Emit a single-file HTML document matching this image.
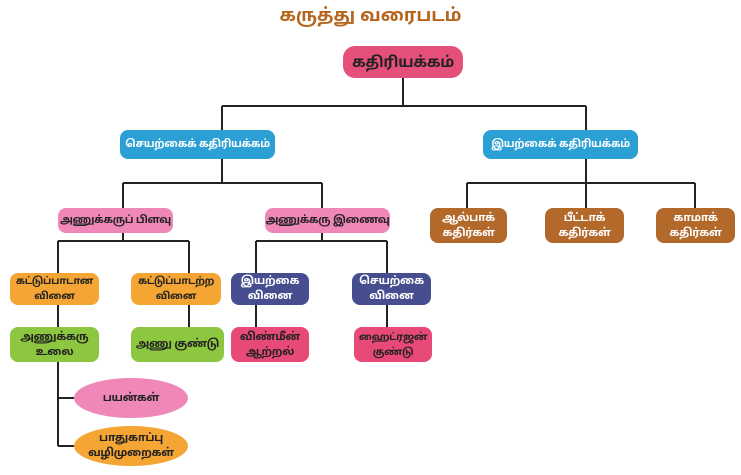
<!DOCTYPE html>
<html><head><meta charset="utf-8"><style>
body{margin:0;width:741px;height:475px;background:#fff;position:relative;overflow:hidden;font-family:"Liberation Sans","Noto Sans Tamil","Latha",sans-serif;}
.b{position:absolute;display:flex;align-items:center;justify-content:center;text-align:center;border-radius:8px;font-size:11px;font-weight:bold;line-height:15px;color:#222;white-space:nowrap;letter-spacing:-0.3px}
.w{color:#fff}
svg{position:absolute;left:0;top:0}
</style></head><body>
<svg width="741" height="475"><g stroke="#222" stroke-width="2" fill="none">
<path d="M403 78V106M222 106H586M222 106V130M586 106V130"/>
<path d="M222 159V183M123 183H322M123 183V208M322 183V208"/>
<path d="M586 159V183M467 183H695M467 183V208M586 183V208M695 183V208"/>
<path d="M123 233V241M58 241H189M58 241V273M189 241V273"/>
<path d="M322 233V241M256 241H387M256 241V273M387 241V273"/>
<path d="M58 305V327M189 305V327M256 305V327M387 305V327"/>
<path d="M58 362V446M58 398H74M58 446H74"/>
</g></svg>
<div style="position:absolute;left:0;width:741px;top:5px;text-align:center;font-size:18px;font-weight:bold;color:#b5651d">கருத்து வரைபடம்</div>
<div class="b" style="left:343px;top:46px;width:120px;height:32px;background:#e5507a;border-radius:12px;font-size:15px">கதிரியக்கம்</div>
<div class="b w" style="left:120px;top:130px;width:155px;height:29px;background:#2c9fd5;font-size:10.5px">செயற்கைக் கதிரியக்கம்</div>
<div class="b w" style="left:483px;top:130px;width:155px;height:29px;background:#2c9fd5;font-size:10.5px">இயற்கைக் கதிரியக்கம்</div>
<div class="b" style="left:58px;top:208px;width:115px;height:25px;background:#ef87b8;font-size:10.5px">அணுக்கருப் பிளவு</div>
<div class="b" style="left:265px;top:208px;width:125px;height:25px;background:#ef87b8;font-size:10.5px">அணுக்கரு இணைவு</div>
<div class="b w" style="left:430px;top:208px;width:77px;height:35px;background:#b2692a">ஆல்பாக்<br>கதிர்கள்</div>
<div class="b w" style="left:545px;top:208px;width:79px;height:35px;background:#b2692a">பீட்டாக்<br>கதிர்கள்</div>
<div class="b w" style="left:656px;top:208px;width:79px;height:35px;background:#b2692a">காமாக்<br>கதிர்கள்</div>
<div class="b" style="left:10px;top:273px;width:89px;height:32px;background:#f4a533;font-size:10px">கட்டுப்பாடான<br>வினை</div>
<div class="b" style="left:131px;top:273px;width:90px;height:32px;background:#f4a533;font-size:10px">கட்டுப்பாடற்ற<br>வினை</div>
<div class="b w" style="left:231px;top:273px;width:78px;height:32px;background:#464e8f">இயற்கை<br>வினை</div>
<div class="b w" style="left:352px;top:273px;width:79px;height:32px;background:#464e8f">செயற்கை<br>வினை</div>
<div class="b" style="left:10px;top:327px;width:89px;height:35px;background:#8dc63f">அணுக்கரு<br>உலை</div>
<div class="b" style="left:131px;top:327px;width:93px;height:35px;background:#8dc63f">அணு குண்டு</div>
<div class="b" style="left:231px;top:327px;width:78px;height:35px;background:#e84a78">விண்மீன்<br>ஆற்றல்</div>
<div class="b" style="left:354px;top:327px;width:78px;height:35px;background:#e84a78;font-size:10px">ஹைட்ரஜன்<br>குண்டு</div>
<div class="b" style="left:74px;top:378px;width:114px;height:40px;background:#ef87b8;border-radius:50%">பயன்கள்</div>
<div class="b" style="left:74px;top:426px;width:114px;height:40px;background:#f4a533;border-radius:50%">பாதுகாப்பு<br>வழிமுறைகள்</div>
</body></html>
